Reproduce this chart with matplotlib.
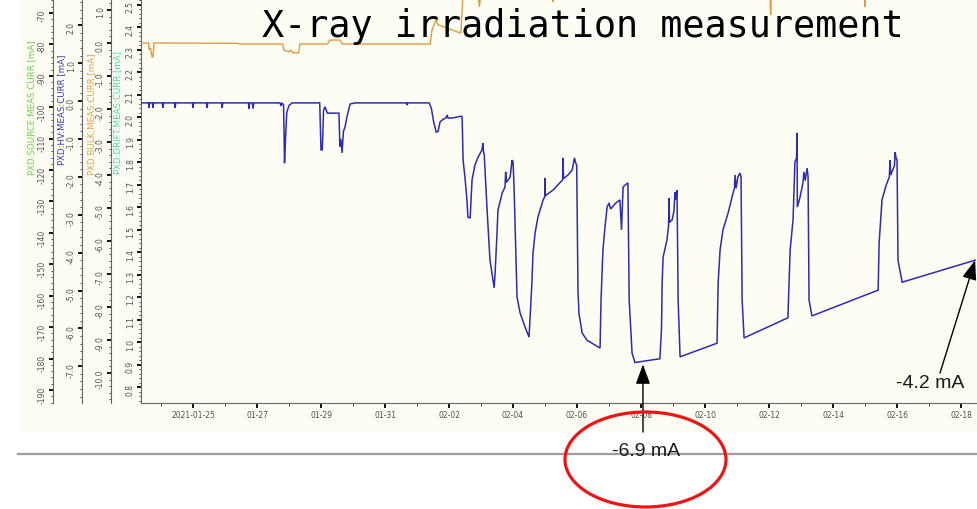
import numpy as np
import matplotlib
matplotlib.use("Agg")
import matplotlib.pyplot as plt
import matplotlib.dates as mdates
from matplotlib.ticker import MultipleLocator, FormatStrFormatter, FixedLocator
from matplotlib.patches import Ellipse, Rectangle
from matplotlib.lines import Line2D

plt.rcParams["axes.unicode_minus"] = False

# ---- data -----------------------------------------------------------------
# time axis: days after 2021-01-25 00:00
hv_days = [
    -1.62, -1.39, -1.375, -1.36, -1.27, -1.25, -1.23, -0.96, -0.94, -0.92,
    -0.58, -0.56, -0.54, -0.02, 0.0, 0.02, 0.42, 0.44, 0.46, 0.89, 0.91, 0.93,
    1.73, 1.75, 1.77, 1.85, 1.875, 1.90, 2.72, 2.75, 2.78, 2.83, 2.86, 2.89,
    2.93, 3.00, 3.10,
    3.96, 4.00, 4.04, 4.08, 4.125, 4.20, 4.56, 4.59, 4.62, 4.66, 4.70, 4.75,
    4.81, 4.91, 5.06,
    6.67, 6.69, 6.71, 7.38, 7.45, 7.52, 7.60, 7.66, 7.72, 7.82, 7.90, 7.94,
    7.97, 8.10, 8.38,
    8.41, 8.44, 8.50, 8.56, 8.59, 8.66, 8.69, 8.72, 8.81, 8.91, 9.03, 9.06,
    9.08, 9.10, 9.19, 9.28, 9.41,
    9.44, 9.50, 9.53, 9.66, 9.75, 9.77, 9.79, 9.91, 9.97, 10.00,
    10.03, 10.125, 10.22, 10.375, 10.50,
    10.53, 10.59, 10.625, 10.69, 10.78, 10.94, 10.99, 11.00, 11.01, 11.25,
    11.55, 11.56, 11.58, 11.72, 11.85, 11.92, 11.95, 11.99,
    12.03, 12.06, 12.16, 12.31, 12.72,
    12.75, 12.81, 12.875, 12.94, 13.00, 13.05, 13.20, 13.34, 13.39, 13.44,
    13.50, 13.59,
    13.63, 13.72, 13.81, 14.59,
    14.64, 14.66, 14.69, 14.81, 14.86, 14.875, 14.89, 14.97, 15.03, 15.06,
    15.09, 15.125,
    15.16, 15.22, 16.375,
    16.41, 16.47, 16.56, 16.72, 16.875, 16.92, 16.94, 16.97, 17.03, 17.09,
    17.125,
    17.16, 17.22, 18.59,
    18.66, 18.75, 18.81, 18.86, 18.875, 18.885, 18.97, 19.06, 19.09, 19.13,
    19.19, 19.22,
    19.25, 19.34, 21.41,
    21.44, 21.53, 21.66, 21.76, 21.78, 21.80, 21.84, 21.92, 21.94, 21.97,
    22.00,
    22.03, 22.16, 24.44,
]
hv_ma = [
    -0.05, -0.05, -0.18, -0.05, -0.05, -0.18, -0.05, -0.05, -0.18, -0.05,
    -0.05, -0.18, -0.05, -0.05, -0.18, -0.05, -0.05, -0.18, -0.05, -0.05, -0.18, -0.05,
    -0.05, -0.20, -0.05, -0.05, -0.20, -0.05, -0.05, -0.13, -0.05, -0.10, -1.64, -1.00,
    -0.30, -0.12, -0.05,
    -0.05, -1.29, -1.29, -0.25, -0.15, -0.32, -0.32, -1.20, -1.00, -1.37, -0.80, -0.69,
    -0.42, -0.08, -0.05,
    -0.05, -0.11, -0.05, -0.05, -0.20, -0.55, -0.82, -0.80, -0.55, -0.48, -0.45, -0.37,
    -0.45, -0.45, -0.40,
    -0.42, -1.56, -2.03, -2.61, -3.06, -3.09, -2.61, -2.08, -1.69, -1.48, -1.29, -1.11,
    -1.35, -1.40, -2.88, -4.20, -4.93,
    -4.54, -3.48, -2.88, -2.43, -2.27, -1.87, -2.15, -2.01, -1.56, -1.60,
    -2.20, -5.17, -5.59, -5.96, -6.23,
    -5.78, -4.80, -4.01, -3.48, -3.06, -2.61, -2.53, -2.03, -2.50, -2.35,
    -2.08, -1.50, -2.05, -1.95, -1.82, -1.50, -1.61, -1.70,
    -5.00, -5.60, -6.12, -6.31, -6.52,
    -5.25, -3.93, -3.32, -2.80, -2.69, -2.85, -2.70, -2.61, -3.40, -2.27,
    -2.22, -2.16,
    -5.25, -6.65, -6.90, -6.80,
    -6.00, -4.80, -4.12, -3.67, -3.30, -2.56, -3.20, -3.14, -2.90, -2.40,
    -2.60, -2.35,
    -5.25, -6.75, -6.39,
    -4.80, -3.93, -3.40, -2.96, -2.43, -2.30, -1.95, -2.30, -2.00, -1.90,
    -2.00,
    -5.25, -6.25, -5.72,
    -3.93, -3.14, -1.61, -1.50, -0.84, -2.80, -2.53, -2.16, -1.87, -2.10,
    -1.77, -2.00,
    -5.25, -5.67, -4.99,
    -3.75, -2.61, -2.22, -2.00, -1.56, -1.95, -1.87, -1.70, -1.35, -1.50,
    -1.56,
    -4.20, -4.78, -4.20,
]

bulk_days = [
    -1.60, -1.39, -1.375, -1.33, -1.28, -1.25, -1.22, 1.40, 1.45, 2.80, 2.84,
    3.00, 3.06, 3.12, 3.30, 3.34, 4.20, 4.28, 4.59, 4.66, 7.41, 7.47, 7.59,
    7.66, 7.94, 8.28, 8.37, 8.41, 8.44, 8.90, 8.95, 9.00, 11.20, 11.25, 11.30,
    18.03, 18.05, 18.08, 20.98, 21.00, 21.02, 24.50,
]
bulk_ma = [
    0.00, 0.00, -0.20, -0.15, -0.42, -0.42, 0.00, -0.01, -0.03, -0.03, -0.21,
    -0.27, -0.21, -0.30, -0.30, -0.03, -0.03, 0.09, 0.09, -0.03, -0.03, 0.40, 0.70,
    0.55, 0.45, 0.33, 0.30, 1.00, 1.60, 1.60, 1.09, 1.60, 1.60, 1.25, 1.60,
    1.60, 0.85, 1.60, 1.60, 1.09, 1.60, 1.60,
]

tick_dates = ["2021-01-25", "2021-01-27", "2021-01-29", "2021-01-31",
              "2021-02-02", "2021-02-04", "2021-02-06", "2021-02-08",
              "2021-02-10", "2021-02-12", "2021-02-14", "2021-02-16",
              "2021-02-18"]
tick_labels = ["2021-01-25", "01-27", "01-29", "01-31", "02-02", "02-04",
               "02-06", "02-08", "02-10", "02-12", "02-14", "02-16", "02-18"]

min_current = -6.9   # lowest HV current during irradiation
min_day = 14.06
end_current = -4.2   # last reading

# ---- styling ----------------------------------------------------------------
W, H = 978, 509
cream = "#fefdf4"
blue = "#2b2bb5"
orange = "#e29b3c"
tick_col = "#505050"

base = mdates.date2num(np.datetime64("2021-01-25T00:00"))
hv_x = base + np.array(hv_days)
bulk_x = base + np.array(bulk_days)

fig = plt.figure(figsize=(W / 100, H / 100), dpi=100, facecolor="white")

# screenshot panel and separator rule
fig.add_artist(Rectangle((20 / W, 1 - 432 / H), 958 / W, 432 / H,
                         transform=fig.transFigure, facecolor=cream,
                         edgecolor="none", zorder=-5))
fig.add_artist(Line2D([18 / W, 1.0], [1 - 454 / H, 1 - 454 / H],
                      transform=fig.transFigure, color="#9c9c9c", lw=1.6))

ax = fig.add_axes([141 / W, 106 / H, 837 / W, 403 / H])
ax.set_facecolor(cream)
ax.set_xlim(base - 1.625, base + 24.53)
ax.set_ylim(0.729, 2.52)
for s in ("top", "right"):
    ax.spines[s].set_visible(False)
for s in ("left", "bottom"):
    ax.spines[s].set_color("#666666")
    ax.spines[s].set_linewidth(0.8)

tick_pos = [mdates.date2num(np.datetime64(d + "T00:00")) for d in tick_dates]
ax.xaxis.set_major_locator(FixedLocator(tick_pos))
ax.set_xticklabels(tick_labels)
ax.xaxis.set_minor_locator(FixedLocator(np.arange(base - 1, base + 25, 1.0)))
ax.tick_params(axis="x", which="major", direction="out", length=3.6, width=1.4,
               color="#111111", labelsize=5.5, labelcolor=tick_col, pad=2.2)
ax.tick_params(axis="x", which="minor", direction="out", length=1.8, width=0.6,
               color="#333333")


def style_y(a, major, minor, fmt):
    a.yaxis.set_major_locator(MultipleLocator(major))
    a.yaxis.set_minor_locator(MultipleLocator(minor))
    a.yaxis.set_major_formatter(FormatStrFormatter(fmt))
    a.tick_params(axis="y", which="major", direction="out", length=2.9,
                  width=1.4, color="#111111", labelsize=5.5,
                  labelcolor=tick_col, labelrotation=90, pad=1.5)
    a.tick_params(axis="y", which="minor", direction="out", length=1.5,
                  width=0.6, color="#333333")


style_y(ax, 0.1, 0.02, "%.1f")


def side_axis(offset_px, lo, hi):
    t = ax.twinx()
    t.set_ylim(lo, hi)
    t.yaxis.set_ticks_position("left")
    t.yaxis.set_label_position("left")
    for s in ("top", "right", "bottom"):
        t.spines[s].set_visible(False)
    t.spines["left"].set_visible(True)
    t.spines["left"].set_position(("outward", offset_px * 0.72))
    t.spines["left"].set_color("#666666")
    t.spines["left"].set_linewidth(0.8)
    return t


ax_src = side_axis(88, -194.14, -65.86)
style_y(ax_src, 10, 2, "%d")
ax_hv = side_axis(59, -7.968, 2.665)
style_y(ax_hv, 1.0, 0.2, "%.1f")
ax_bulk = side_axis(30, -10.91, 1.303)
style_y(ax_bulk, 1.0, 0.2, "%.1f")

ax_bulk.plot(bulk_x, bulk_ma, color=orange, lw=1.0, solid_joinstyle="miter")
ax_hv.plot(hv_x, hv_ma, color=blue, lw=1.1, solid_joinstyle="miter")

# axis titles
labels = [("PXD:SOURCE:MEAS:CURR [mA]", 32, 108, "#62d83a"),
          ("PXD:HV:MEAS:CURR [mA]", 62, 110, "#3535c0"),
          ("PXD:BULK:MEAS:CURR [mA]", 92, 114, "#e2a23a"),
          ("PXD:DRIFT:MEAS:CURR [mA]", 118, 112, "#40dca8")]
for txt, x, y, c in labels:
    fig.text(x / W, 1 - y / H, txt, rotation=90, ha="center", va="center",
             color=c, fontsize=6.2)

fig.text(262 / W, 1 - 37 / H, "X-ray irradiation measurement",
         family="DejaVu Sans Mono", fontsize=26.5, va="baseline", ha="left",
         color="black")

arrow = dict(arrowstyle="-|>,head_length=0.6,head_width=0.22",
             mutation_scale=20, color="black", lw=1.0, shrinkA=0, shrinkB=0)
ax_hv.annotate("", xy=(base + min_day, min_current - 0.05),
               xytext=(643 / W, 77 / H), textcoords="figure fraction",
               arrowprops=arrow)
ax_hv.annotate("", xy=(hv_x[-1], hv_ma[-1]),
               xytext=(940 / W, 136 / H), textcoords="figure fraction",
               arrowprops=arrow)

fig.text(646 / W, 1 - 452 / H, f"{min_current:.1f} mA", family="Liberation Sans",
         fontsize=14, ha="center", va="center", color="#1a1a1a")
fig.text(930 / W, 1 - 383 / H, f"{end_current:.1f} mA", family="Liberation Sans",
         fontsize=14, ha="center", va="center", color="#1a1a1a")

fig.add_artist(Ellipse((645.5 / W, 1 - 459.5 / H), 161 / W, 95 / H,
                       transform=fig.transFigure, facecolor="none",
                       edgecolor="#ee1414", lw=2.3, zorder=10))

fig.savefig("out.png", dpi=100, facecolor="white")
